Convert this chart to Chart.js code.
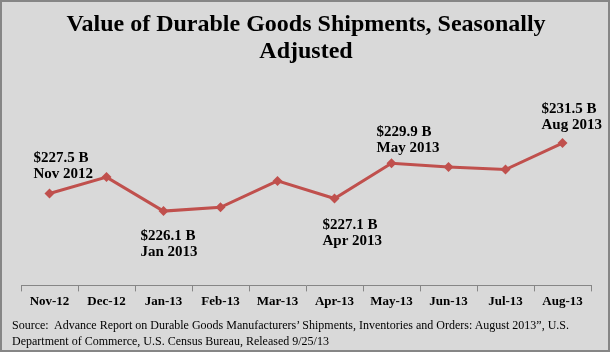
<!DOCTYPE html>
<html>
<head>
<meta charset="utf-8">
<script src="https://cdn.jsdelivr.net/npm/chart.js@4"></script>
<style>
  html, body { margin: 0; padding: 0; background: #ffffff; }
  #frame { position: absolute; left: 0; top: 0; width: 610px; height: 352px; box-sizing: border-box;
           border: 2px solid #868686; background: #d9d9d9; }
  #wrap { position: absolute; left: 0; top: 0; width: 612px; height: 355px; }
  #source { position: absolute; left: 12px; top: 317px; width: 595px; font: 12px/16px "Liberation Serif", "Times New Roman", serif;
            color: #000; white-space: pre; }
</style>
</head>
<body>
<div id="frame"></div>
<div id="wrap"><canvas id="c" width="612" height="355"></canvas></div>
<div id="source"></div>
<script>
const categories = ['Nov-12','Dec-12','Jan-13','Feb-13','Mar-13','Apr-13','May-13','Jun-13','Jul-13','Aug-13'];
const shipments = [227.5, 228.8, 226.1, 226.4, 228.5, 227.1, 229.9, 229.6, 229.4, 231.5];
const calloutIndex = [0, 2, 5, 6, 9];
const calloutValue = ['$227.5 B', '$226.1 B', '$227.1 B', '$229.9 B', '$231.5 B'];
const calloutMonth = ['Nov 2012', 'Jan 2013', 'Apr 2013', 'May 2013', 'Aug 2013'];
const titleLines = ['Value of Durable Goods Shipments, Seasonally', 'Adjusted'];
const sourceLines = [
  'Source:  Advance Report on Durable Goods Manufacturers\u2019 Shipments, Inventories and Orders: August 2013\u201d, U.S.',
  'Department of Commerce, U.S. Census Bureau, Released 9/25/13'
];

document.getElementById('source').textContent = sourceLines.join('\n');

// label placement relative to the data point (dx to left edge, dy of first line centre)
const calloutPlacement = [
  {dx: -16, dy: -35}, {dx: -23, dy: 25}, {dx: -12, dy: 27}, {dx: -15, dy: -31}, {dx: -21, dy: -34}
];

const callouts = {
  id: 'callouts',
  afterDatasetsDraw(chart) {
    const ctx = chart.ctx;
    const meta = chart.getDatasetMeta(0);
    ctx.save();
    ctx.font = 'bold 15px "Liberation Serif", "Times New Roman", serif';
    ctx.fillStyle = '#000000';
    ctx.textAlign = 'left';
    ctx.textBaseline = 'middle';
    calloutIndex.forEach((idx, k) => {
      const pt = meta.data[idx];
      const p = calloutPlacement[k];
      ctx.fillText(calloutValue[k], pt.x + p.dx, pt.y + p.dy);
      ctx.fillText(calloutMonth[k], pt.x + p.dx, pt.y + p.dy + 16);
    });
    ctx.restore();
  }
};

new Chart(document.getElementById('c'), {
  type: 'line',
  data: {
    labels: categories,
    datasets: [{
      data: shipments,
      borderColor: '#C0504D',
      backgroundColor: '#C0504D',
      borderWidth: 3,
      pointStyle: 'rectRot',
      pointRadius: 5,
      pointBorderWidth: 0,
      pointBackgroundColor: '#C0504D',
      tension: 0,
      fill: false
    }]
  },
  options: {
    responsive: false,
    animation: false,
    layout: { padding: { left: 21, right: 21, top: 0, bottom: 44 } },
    scales: {
      x: {
        offset: true,
        grid: { offset: true, drawOnChartArea: false, drawTicks: true, tickLength: 6, color: '#868686' },
        border: { display: true, color: '#868686', width: 1 },
        ticks: { color: '#000000', padding: 2, maxRotation: 0, autoSkip: false,
                 font: { family: '"Liberation Serif", "Times New Roman", serif', size: 13, weight: 'bold' } }
      },
      y: { display: false, min: 220.2, max: 235.2 }
    },
    plugins: {
      legend: { display: false },
      tooltip: { enabled: false },
      title: {
        display: true,
        text: titleLines,
        color: '#000000',
        font: { family: '"Liberation Serif", "Times New Roman", serif', size: 24, weight: 'bold', lineHeight: 1.125 },
        padding: { top: 11.5, bottom: 31 }
      }
    }
  },
  plugins: [callouts]
});
</script>
</body>
</html>
